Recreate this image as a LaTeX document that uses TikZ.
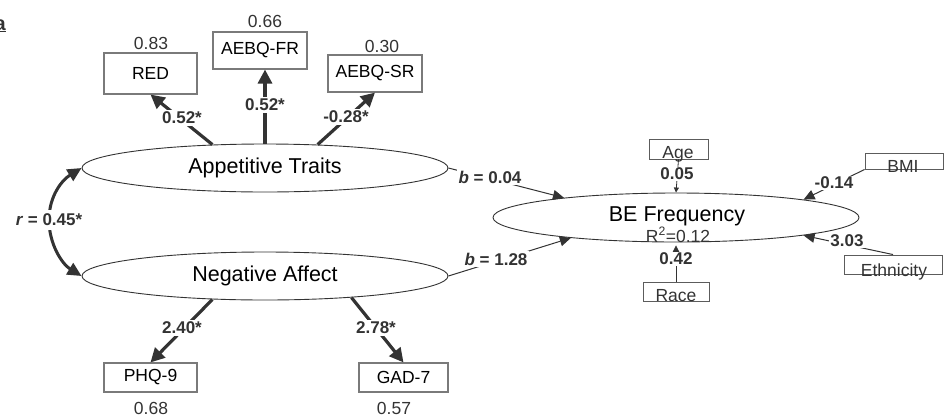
\documentclass[tikz,border=0pt]{standalone}
\usepackage{fontspec}
\setmainfont{Liberation Sans}
\usetikzlibrary{arrows.meta,shapes.geometric}
\definecolor{ink}{HTML}{333333}
\definecolor{boxgray}{HTML}{7A7A7A}
\tikzset{
  lat/.style={ellipse, draw=ink, line width=0.9pt, minimum width=366pt, minimum height=48pt, inner sep=0pt, font=\fontsize{21.5}{24}\selectfont},
  ind/.style={draw=boxgray, line width=1.1pt, inner sep=0pt, font=\fontsize{17.5}{20}\selectfont},
  cvbox/.style={draw=ink!80, line width=0.9pt, inner sep=0pt},
  cvtext/.style={anchor=base, inner sep=0pt, font=\fontsize{17.5}{20}\selectfont, text=ink},
  resid/.style={font=\fontsize{17.5}{20}\selectfont, text=ink, inner sep=0pt},
  loadarr/.style={draw=ink, line width=3.2pt, -{Triangle[length=14pt,width=14pt]}},
  covarr/.style={draw=ink, line width=3pt, {Triangle[length=14pt,width=13pt]}-{Triangle[length=14pt,width=13pt]}},
  patharr/.style={draw=ink, line width=1pt, -{Triangle[length=11pt,width=10pt]}},
  tinyarr/.style={draw=ink, line width=0.8pt, -{Triangle[length=5pt,width=5pt]}},
  smallarr/.style={draw=ink, line width=0.8pt, -{Triangle[length=7pt,width=7pt]}},
  coef/.style={font=\bfseries\fontsize{17}{19}\selectfont, text=ink, fill=white, inner sep=2pt},
}
\begin{document}
\begin{tikzpicture}[x=1pt,y=-1pt]
\useasboundingbox (0,0) rectangle (944,418);

% panel label (cut off at the left edge)
\node[anchor=base east, inner sep=0pt, font=\bfseries\fontsize{20}{22}\selectfont, text=ink] (panel) at (6,30) {\underline{a}};

% latent variables
\node[lat] (app) at (265,168) {Appetitive Traits};
\node[lat] (neg) at (265,276) {Negative Affect};
\node[lat, minimum height=49pt] (be) at (676,217.5) {};
\node[anchor=base, inner sep=0pt, font=\fontsize{21.5}{24}\selectfont] (betext) at (677,221) {BE Frequency};
\node[anchor=base, inner sep=0pt, font=\fontsize{17.5}{20}\selectfont, text=ink] (r2) at (678,242) {R\textsuperscript{2}=0.12};

% indicators
\node[ind, minimum width=93pt, minimum height=41pt] (red) at (150.5,73.5) {RED};
\node[ind, minimum width=94pt, minimum height=37pt] (fr) at (260,50.5) {AEBQ-FR};
\node[ind, minimum width=94pt, minimum height=37pt] (sr) at (375,73.5) {AEBQ-SR};
\node[ind, minimum width=93pt, minimum height=29pt] (phq) at (150.5,377.5) {PHQ-9};
\node[ind, minimum width=89pt, minimum height=29pt] (gad) at (403.5,377.5) {GAD-7};

% residual values
\node[resid] (rred) at (151,43) {0.83};
\node[resid] (rfr) at (265,21) {0.66};
\node[resid] (rsr) at (382,46) {0.30};
\node[resid] (rphq) at (151,408) {0.68};
\node[resid] (rgad) at (394,408) {0.57};

% covariate boxes
\node[cvbox, minimum width=59pt, minimum height=20pt] (age) at (678.5,149) {};
\node[cvtext] (agetext) at (678,158) {Age};
\node[cvbox, minimum width=78pt, minimum height=16pt] (bmi) at (904,161) {};
\node[cvtext] (bmitext) at (903,172) {BMI};
\node[cvbox, minimum width=98pt, minimum height=19pt] (eth) at (893,264.5) {};
\node[cvtext] (ethtext) at (894,276) {Ethnicity};
\node[cvbox, minimum width=66pt, minimum height=19pt] (race) at (676,291.5) {};
\node[cvtext] (racetext) at (676,301) {Race};

% loadings
\draw[loadarr] (app.156) -- (red.south);
\node[coef] (lred) at (182,118) {0.52*};
\draw[loadarr] (app.north) -- (app.north |- fr.south);
\node[coef] (lfr) at (265,105) {0.52*};
\draw[loadarr] (app.24) -- (sr.south);
\node[coef] (lsr) at (346,117) {-0.28*};
\draw[loadarr] (neg.204) -- (phq.north);
\node[coef] (lphq) at (182,328) {2.40*};
\draw[loadarr] (neg.-14.5) -- (gad.north);
\node[coef] (lgad) at (376,328) {2.78*};

% correlation
\coordinate (rmid) at (49,220);
\draw[covarr] (app.west) .. controls (62,180) and (49,196) .. (rmid) .. controls (49,244) and (62,264) .. (neg.west);
\node[coef, inner sep=4pt] (rlab) at (49,220) {\textit{r} = 0.45*};

% structural paths
\draw[patharr] (app.east) -- (be.170);
\node[coef] (b1) at (490,177) {\textit{b} = 0.04};
\draw[patharr] (neg.east) -- (be.191);
\node[coef] (b2) at (496,259) {\textit{b} = 1.28};

% covariate paths
\draw[tinyarr] (age.south) -- (be.north);
\node[coef, inner sep=1pt] (cage) at (677,174) {0.05};
\draw[smallarr] (race.north) -- ([yshift=-3pt]be.south);
\node[coef, inner sep=1pt] (crace) at (676,259) {0.42};
\draw[patharr] (bmi.south west) -- (be.8);
\node[coef, inner sep=1pt] (cbmi) at (834,183) {-0.14};
\draw[patharr] (eth.north) -- (be.-8);
\node[coef, inner sep=1pt] (ceth) at (847,241) {3.03};
\end{tikzpicture}
\end{document}
